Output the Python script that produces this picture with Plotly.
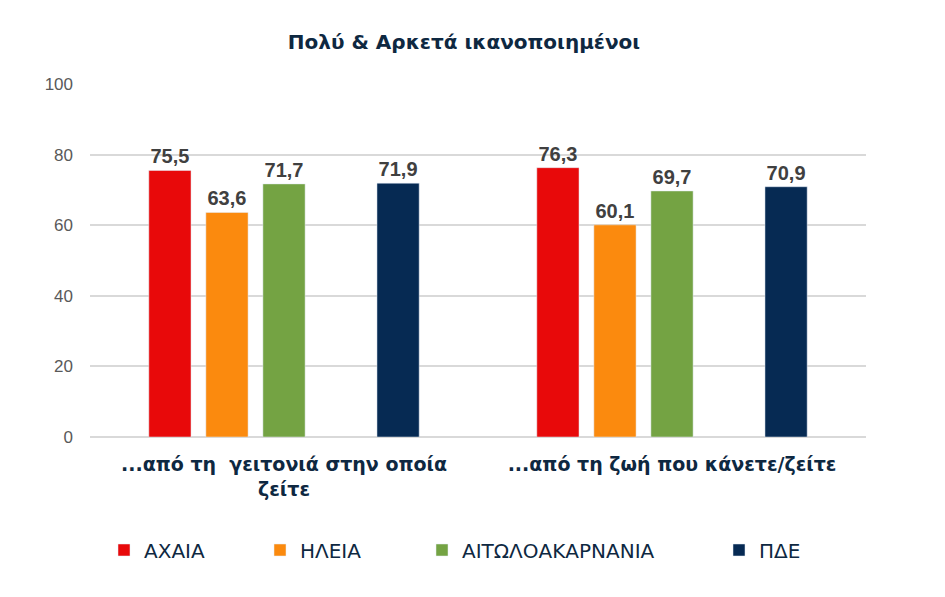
import plotly.graph_objects as go

categories = ["...από τη  γειτονιά στην οποία<br>ζείτε", "...από τη ζωή που κάνετε/ζείτε"]
series_names = ["ΑΧΑΙΑ", "ΗΛΕΙΑ", "ΑΙΤΩΛΟΑΚΑΡΝΑΝΙΑ", "ΠΔΕ"]
achaia = [75.5, 76.3]
ileia = [63.6, 60.1]
aitoloakarnania = [71.7, 69.7]
pde = [71.9, 70.9]
y_ticks = [0, 20, 40, 60, 80, 100]

colors = ["#E8090A", "#FB8A0E", "#74A343", "#062A53"]
values = [achaia, ileia, aitoloakarnania, pde]

W, H = 945, 597
ml, mr, mt, mb = 90, 79, 84, 160
pw = W - ml - mr
ph = H - mt - mb

def fmt(v):
    return f"{v:.1f}".replace(".", ",")

fig = go.Figure()
legend_px = [104, 260, 422, 719]
for i, (name, vals, col) in enumerate(zip(series_names, values, colors)):
    lg = "legend" if i == 0 else f"legend{i+1}"
    fig.add_trace(go.Bar(
        x=categories, y=vals, name=name, marker_color=col,
        text=[fmt(v) for v in vals], textposition="outside",
        textfont=dict(family="Liberation Sans", size=20, color="#404040", weight="bold"),
        cliponaxis=False, legend=lg,
    ))
    if i == 2:
        # empty slot between 3rd and 4th bar, as in the reference
        fig.add_trace(go.Bar(x=categories, y=[None, None], showlegend=False,
                             marker_color="rgba(0,0,0,0)", hoverinfo="skip"))

layout_legends = {}
for i, px in enumerate(legend_px):
    key = "legend" if i == 0 else f"legend{i+1}"
    layout_legends[key] = dict(
        x=(px - ml) / pw, y=(mt + ph - 550) / ph, xanchor="left", yanchor="middle",
        orientation="h", font=dict(family="DejaVu Sans", size=20, color="#0E2841"),
        bgcolor="rgba(0,0,0,0)", itemwidth=30,
    )

fig.update_layout(
    width=W, height=H,
    margin=dict(l=ml, r=mr, t=mt, b=mb),
    paper_bgcolor="white", plot_bgcolor="white",
    barmode="group", bargap=0.265, bargroupgap=0.26,
    title=dict(text="<b>Πολύ & Αρκετά ικανοποιημένοι</b>", x=464 / W, xref="container",
               xanchor="center", y=1 - 42 / H, yanchor="middle",
               font=dict(family="DejaVu Sans", size=20, color="#0E2841")),
    xaxis=dict(tickfont=dict(family="DejaVu Sans", size=19, color="#0E2841", weight="bold"),
               ticklabelstandoff=14, showline=False, showgrid=False),
    yaxis=dict(range=[0, 100], tickvals=y_ticks, showgrid=True, gridcolor="#D9D9D9",
               gridwidth=1.5, zeroline=True, zerolinecolor="#D9D9D9", zerolinewidth=1.5,
               tickfont=dict(family="Liberation Sans", size=17, color="#595959"),
               ticklabelstandoff=16),
    **layout_legends,
)

fig.write_html("out.html")
